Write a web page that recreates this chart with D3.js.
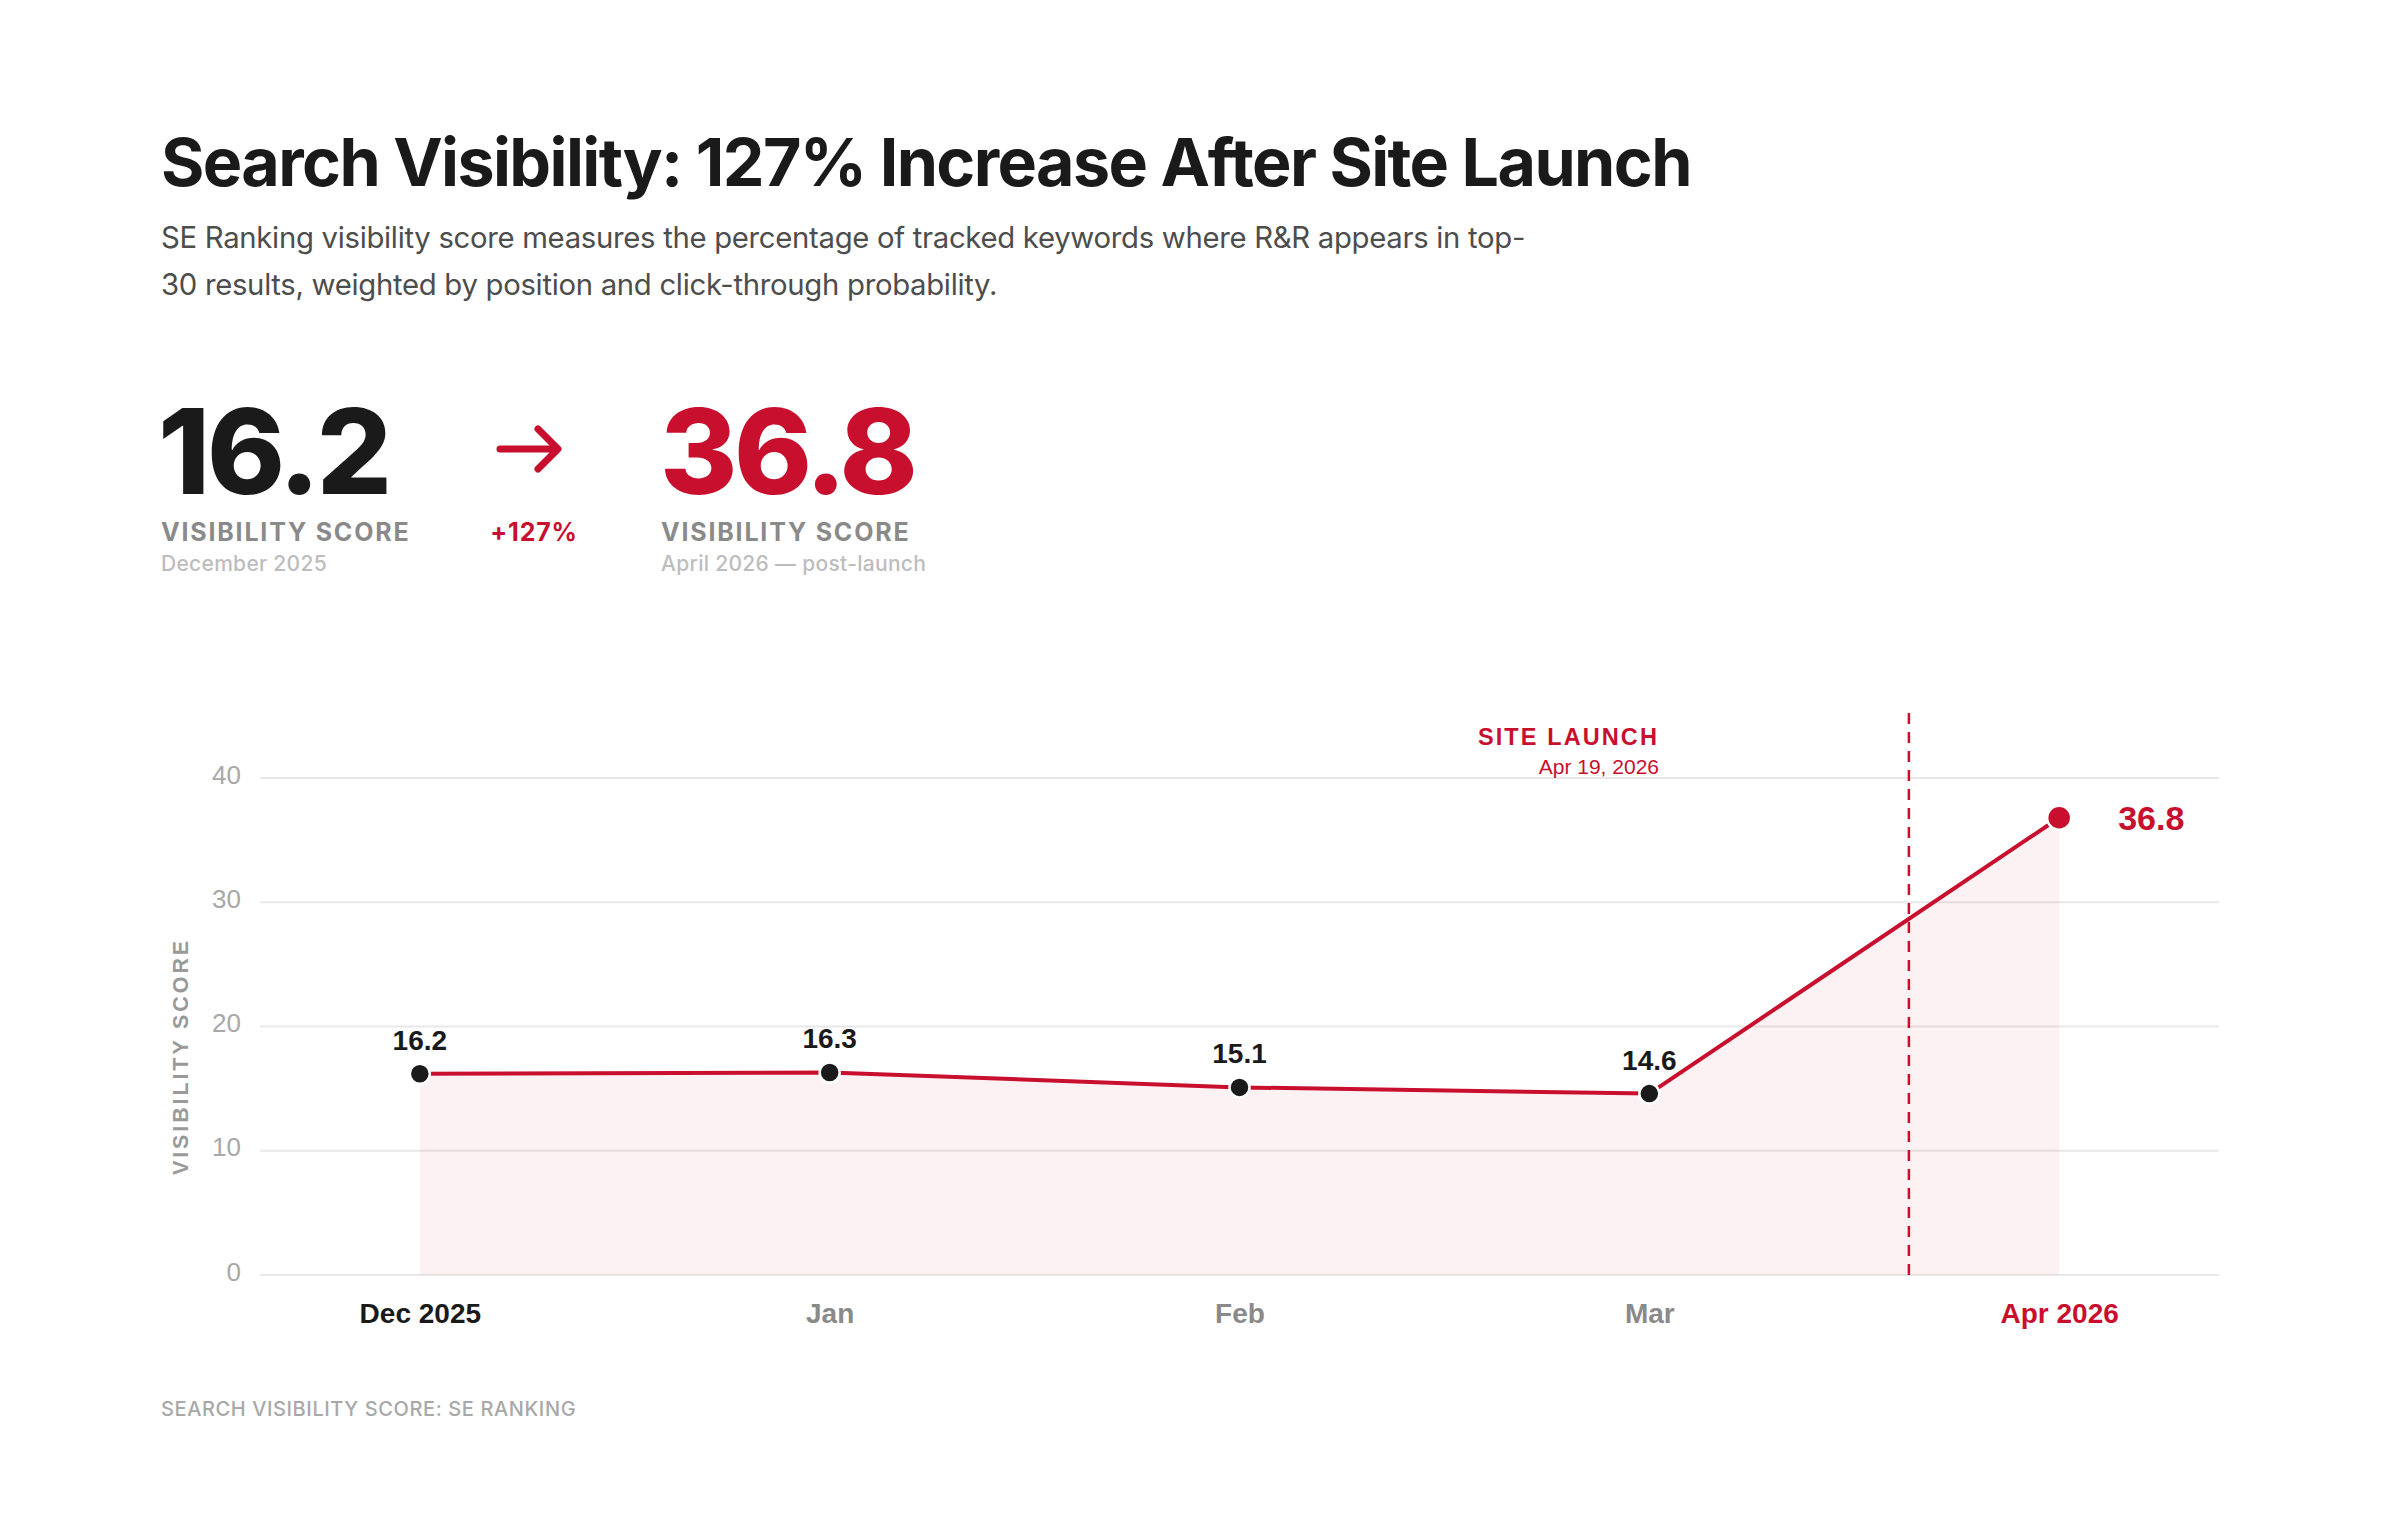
<!DOCTYPE html>
<html>
<head>
<meta charset="utf-8">
<script src="https://cdn.jsdelivr.net/npm/d3@7"></script>
<style>
  body { margin: 0; background: #fff; }
  svg { display: block; }
</style>
</head>
<body>
<script>
// chart data
const months = ["Dec 2025", "Jan", "Feb", "Mar", "Apr 2026"];
const scores = [16.2, 16.3, 15.1, 14.6, 36.8];
const yTicks = [0, 10, 20, 30, 40];
const launchLabel = "SITE LAUNCH";
const launchDate = "Apr 19, 2026";
const launchDayFrac = 19 / 30; // Apr 19 placed between Mar and Apr

const red = "#c8102e";
const dark = "#1a1a1a";

function createChart() {
  const width = 2400, height = 1520;
  const svg = d3.select("body").append("svg")
    .attr("width", width)
    .attr("height", height);

  const head = "Inter, 'Noto Sans', sans-serif";
  const body = "'Liberation Sans', Arial, sans-serif";

  // header
  svg.append("text")
    .attr("x", 161).attr("y", 186)
    .attr("font-family", head).attr("font-weight", 700)
    .attr("font-size", 66.3).attr("letter-spacing", -1.6)
    .attr("fill", dark)
    .text("Search Visibility: 127% Increase After Site Launch");

  const sub = [
    "SE Ranking visibility score measures the percentage of tracked keywords where R&R appears in top-",
    "30 results, weighted by position and click-through probability."
  ];
  svg.append("g").selectAll("text")
    .data(sub)
    .join("text")
    .attr("x", 161)
    .attr("y", (d, i) => 248 + i * 47)
    .attr("font-family", head).attr("font-size", 29.3)
    .attr("letter-spacing", -0.3)
    .attr("fill", "#4d4d4d")
    .text(d => d);

  // big numbers
  const stats = svg.append("g");
  stats.append("text")
    .attr("x", 158).attr("y", 494)
    .attr("font-family", head).attr("font-weight", 800)
    .attr("font-size", 118).attr("letter-spacing", -3.2)
    .attr("fill", dark).text(scores[0]);
  stats.append("text")
    .attr("x", 660).attr("y", 494)
    .attr("font-family", head).attr("font-weight", 800)
    .attr("font-size", 118).attr("letter-spacing", -3.6)
    .attr("fill", red).text(scores[scores.length - 1]);

  // arrow
  const ax = 500, ay = 449;
  stats.append("path")
    .attr("d", `M${ax},${ay} H${ax + 56} M${ax + 38},${ay - 20} L${ax + 58},${ay} L${ax + 38},${ay + 20}`)
    .attr("fill", "none").attr("stroke", red)
    .attr("stroke-width", 7).attr("stroke-linecap", "round").attr("stroke-linejoin", "round");

  const pct = Math.round((scores[scores.length - 1] / scores[0] - 1) * 100);
  stats.append("text")
    .attr("x", 534).attr("y", 541).attr("text-anchor", "middle")
    .attr("font-family", head).attr("font-weight", 700)
    .attr("font-size", 25).attr("letter-spacing", 0.8)
    .attr("fill", red).text(`+${pct}%`);

  [[161, "December 2025"], [661, "April 2026 — post-launch"]].forEach(([x, sublabel]) => {
    stats.append("text")
      .attr("x", x).attr("y", 541)
      .attr("font-family", head).attr("font-weight", 700)
      .attr("font-size", 25).attr("letter-spacing", 1.8)
      .attr("fill", "#8a8a8a").text("VISIBILITY SCORE");
    stats.append("text")
      .attr("x", x).attr("y", 571)
      .attr("font-family", head).attr("font-weight", 500)
      .attr("font-size", 21).attr("letter-spacing", 0.3)
      .attr("fill", "#bdbdbd").text(sublabel);
  });

  // chart area
  const left = 260, right = 2219, top = 778, bottom = 1275;

  const x = d3.scalePoint()
    .domain(months)
    .range([left, right])
    .padding(0.39);

  const y = d3.scaleLinear()
    .domain([0, 40])
    .range([bottom, top]);

  const pts = months.map((m, i) => ({ m, v: scores[i], i }));

  // gridlines
  svg.append("g").selectAll("line")
    .data(yTicks)
    .join("line")
    .attr("x1", left).attr("x2", right)
    .attr("y1", d => y(d)).attr("y2", d => y(d))
    .attr("stroke", "#e8e8e8").attr("stroke-width", 2);

  // y axis labels
  const yAxis = svg.append("g")
    .attr("transform", `translate(${left - 19},0)`)
    .call(d3.axisLeft(y).tickValues(yTicks).tickSize(0).tickPadding(0));
  yAxis.select(".domain").remove();
  yAxis.selectAll("text")
    .attr("font-family", body).attr("font-size", 26)
    .attr("fill", "#a8a8a8").attr("dy", "0.2em");

  svg.append("text")
    .attr("transform", `translate(188,${(top + bottom) / 2 + 30}) rotate(-90)`)
    .attr("text-anchor", "middle")
    .attr("font-family", body).attr("font-weight", 700)
    .attr("font-size", 21.5).attr("letter-spacing", 2.9)
    .attr("fill", "#9a9a9a").text("VISIBILITY SCORE");

  // area
  const area = d3.area()
    .x(d => x(d.m)).y0(y(0)).y1(d => y(d.v));
  svg.append("path")
    .datum(pts)
    .attr("d", area)
    .attr("fill", red).attr("fill-opacity", 0.06);

  // launch marker
  const step = x.step();
  const lx = x(months[3]) + launchDayFrac * step;
  svg.append("line")
    .attr("x1", lx).attr("x2", lx)
    .attr("y1", 713).attr("y2", bottom)
    .attr("stroke", red).attr("stroke-width", 2.5)
    .attr("stroke-dasharray", "11,8");

  svg.append("text")
    .attr("x", 1659).attr("y", 745).attr("text-anchor", "end")
    .attr("font-family", body).attr("font-weight", 700)
    .attr("font-size", 23.5).attr("letter-spacing", 2.1)
    .attr("fill", red).text(launchLabel);
  svg.append("text")
    .attr("x", 1659).attr("y", 774).attr("text-anchor", "end")
    .attr("font-family", body)
    .attr("font-size", 21)
    .attr("fill", red).text(launchDate);

  // line
  const line = d3.line().x(d => x(d.m)).y(d => y(d.v));
  svg.append("path")
    .datum(pts)
    .attr("d", line)
    .attr("fill", "none").attr("stroke", red)
    .attr("stroke-width", 4).attr("stroke-linejoin", "round");

  const last = pts.length - 1;

  // dots
  svg.append("g").selectAll("circle")
    .data(pts)
    .join("circle")
    .attr("cx", d => x(d.m)).attr("cy", d => y(d.v))
    .attr("r", d => d.i === last ? 12 : 10)
    .attr("fill", d => d.i === last ? red : dark)
    .attr("stroke", "#fff").attr("stroke-width", 2.5);

  // value labels
  svg.append("g").selectAll("text")
    .data(pts)
    .join("text")
    .attr("x", d => d.i === last ? x(d.m) + 59 : x(d.m))
    .attr("y", d => d.i === last ? y(d.v) + 12 : y(d.v) - 24)
    .attr("text-anchor", d => d.i === last ? "start" : "middle")
    .attr("font-family", body).attr("font-weight", 700)
    .attr("font-size", d => d.i === last ? 34 : 28)
    .attr("fill", d => d.i === last ? red : dark)
    .text(d => d.v.toFixed(1));

  // x axis labels
  const xAxis = svg.append("g")
    .attr("transform", `translate(0,${bottom})`)
    .call(d3.axisBottom(x).tickSize(0).tickPadding(0));
  xAxis.select(".domain").remove();
  xAxis.selectAll("text")
    .attr("y", 48).attr("dy", 0)
    .attr("font-family", body).attr("font-weight", 700)
    .attr("font-size", 28)
    .attr("fill", (d, i) => i === 0 ? dark : (i === last ? red : "#8a8a8a"));

  // footer
  svg.append("text")
    .attr("x", 161).attr("y", 1416)
    .attr("font-family", head).attr("font-weight", 500)
    .attr("font-size", 20).attr("letter-spacing", 0.6)
    .attr("fill", "#a8a8a8")
    .text("SEARCH VISIBILITY SCORE: SE RANKING");
}

document.addEventListener("DOMContentLoaded", createChart);
</script>
</body>
</html>
